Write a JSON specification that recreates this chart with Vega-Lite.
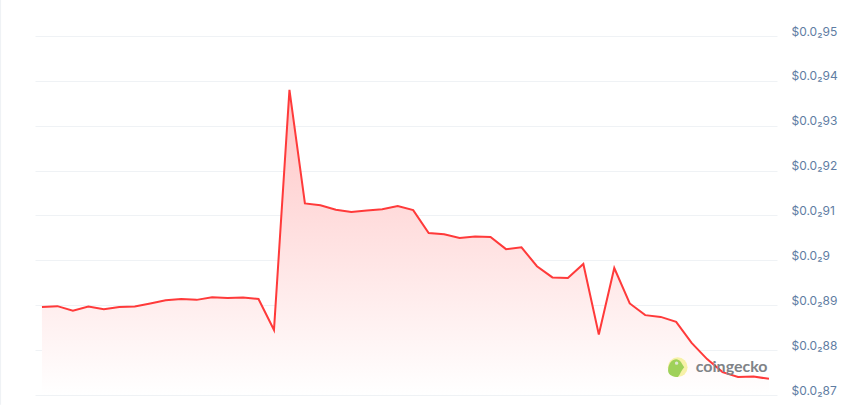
{
"$schema":"https://vega.github.io/schema/vega-lite/v6.json",
"width":742,"height":359,
"autosize":{"type":"none"},
"padding":{"left":35,"top":36,"right":79,"bottom":10},
"background":"white",
"view":{"stroke":null},
"data":{"values":[
{"t":0,"p":0.008896},{"t":1,"p":0.008898},{"t":2,"p":0.008888},{"t":3,"p":0.008897},{"t":4,"p":0.008891},{"t":5,"p":0.008896},{"t":6,"p":0.008897},{"t":7,"p":0.008904},{"t":8,"p":0.008911},{"t":9,"p":0.008914},{"t":10,"p":0.008912},{"t":11,"p":0.008918},{"t":12,"p":0.008916},{"t":13,"p":0.008917},{"t":14,"p":0.008914},{"t":15,"p":0.008845},{"t":16,"p":0.00938},{"t":17,"p":0.009127},{"t":18,"p":0.009123},{"t":19,"p":0.009113},{"t":20,"p":0.009108},{"t":21,"p":0.009111},{"t":22,"p":0.009114},{"t":23,"p":0.009121},{"t":24,"p":0.009112},{"t":25,"p":0.009061},{"t":26,"p":0.009058},{"t":27,"p":0.00905},{"t":28,"p":0.009053},{"t":29,"p":0.009052},{"t":30,"p":0.009025},{"t":31,"p":0.009029},{"t":32,"p":0.008987},{"t":33,"p":0.008962},{"t":34,"p":0.008961},{"t":35,"p":0.008992},{"t":36,"p":0.008835},{"t":37,"p":0.008983},{"t":38,"p":0.008904},{"t":39,"p":0.008878},{"t":40,"p":0.008874},{"t":41,"p":0.008863},{"t":42,"p":0.008816},{"t":43,"p":0.00878},{"t":44,"p":0.008751},{"t":45,"p":0.00874},{"t":46,"p":0.008741},{"t":47,"p":0.008736}
]},
"encoding":{
"x":{"field":"t","type":"quantitative","scale":{"domain":[-0.45,47.52],"nice":false,"zero":false},"axis":null},
"y":{"field":"p","type":"quantitative","scale":{"domain":[0.0087,0.0095],"nice":false,"zero":false},
"axis":{"orient":"right","title":null,"values":[0.0087,0.0088,0.0089,0.009,0.0091,0.0092,0.0093,0.0094,0.0095],
"labelExpr":"'$0.0₂'+replace(format(datum.value*10000,'d'),/0$/,'')",
"domain":false,"ticks":false,"grid":true,"gridColor":"#eff2f5","gridWidth":1,"labelPadding":14,"labelOffset":-5,"labelFont":"Inter","labelFontSize":12,"labelColor":"#5f7da3"}}
},
"layer":[
{"data":{"values":[{"t":-2.69,"p":0.00958,"p2":0.008678}]},"mark":{"type":"rule","color":"#eff2f5","strokeWidth":1.5,"clip":false},"encoding":{"y2":{"field":"p2"}}},
{"mark":{"type":"area","fill":{"gradient":"linear","x1":0,"y1":0,"x2":0,"y2":1,"stops":[{"offset":0,"color":"#ffc4c4"},{"offset":1,"color":"#ffffff"}]},"stroke":null,"fillOpacity":1},"encoding":{"y2":{"datum":0.0087}}},
{"mark":{"type":"line","color":"#ff3a3a","strokeWidth":2,"interpolate":"linear"}},
{"data":{"values":[{"t":41.1,"p":0.008762}]},"mark":{"type":"point","filled":true,"shape":"circle","size":390,"color":"#f7f1a8","opacity":1}},
{"data":{"values":[{"t":41.0,"p":0.00876}]},"mark":{"type":"point","filled":true,"shape":"M-0.9,0.3 C-0.9,-0.6 -0.4,-1 0,-1 C0.4,-1 0.6,-0.6 0.9,-0.1 C0.6,0.2 0.5,0.6 0.2,1 C-0.3,1 -0.9,0.8 -0.9,0.3 Z","size":320,"color":"#9fd15a","opacity":1}},
{"data":{"values":[{"t":41.03,"p":0.008771}]},"mark":{"type":"point","filled":true,"shape":"circle","size":12,"color":"#dfe6d5","opacity":1}},
{"data":{"values":[{"t":42.27,"p":0.008762,"s":"coingecko"}]},"mark":{"type":"text","align":"left","baseline":"middle","font":"Lato","fontSize":16,"fontWeight":"bold","color":"#808387"},"encoding":{"text":{"field":"s"}}}
]
}
